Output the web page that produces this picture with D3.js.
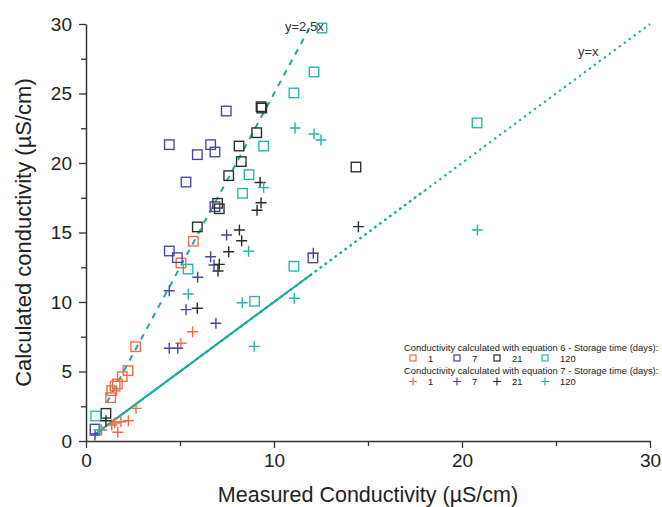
<!DOCTYPE html>
<html><head><meta charset="utf-8">
<script src="https://cdn.jsdelivr.net/npm/d3@7"></script>
<style>body{margin:0;background:#fff}svg{display:block;font-family:"Liberation Sans",Arial,sans-serif}</style>
</head><body><svg id="c" width="662" height="507"></svg>
<script>
// Equation 6 (squares) — [measured, calculated]
const eq6_day1 = [[1.31,3.12],[1.37,3.62],[1.55,3.95],[1.67,4.1],[1.93,4.63],[2.23,5.06],[2.64,6.78],[5.05,12.81],[5.71,14.37]];
const eq6_day7 = [[0.48,0.86],[4.43,13.67],[4.86,13.19],[5.32,18.63],[4.43,21.32],[5.92,20.6],[6.63,21.32],[6.86,20.79],[7.46,23.74],[6.86,16.86],[12.07,13.17]];
const eq6_day21 = [[1.06,1.99],[5.92,15.4],[7.0,17.1],[7.09,16.71],[7.59,19.09],[8.26,20.1],[8.14,21.22],[9.08,22.18],[9.31,24.05],[9.35,23.95],[14.36,19.71]];
const eq6_day120 = [[0.52,1.8],[5.43,12.37],[8.33,17.82],[8.67,19.16],[9.45,21.22],[8.97,10.05],[11.06,12.57],[11.06,25.04],[12.13,26.55],[12.55,29.71],[20.8,22.88]];
// Equation 7 (crosses)
const eq7_day1 = [[0.83,0.79],[1.37,1.15],[1.53,1.3],[1.69,0.63],[1.86,1.39],[2.25,1.46],[2.66,2.35],[5.05,7.03],[5.67,7.86]];
const eq7_day7 = [[0.48,0.43],[4.43,6.67],[4.88,6.67],[4.43,10.81],[5.32,9.45],[5.94,11.78],[6.63,13.26],[6.81,12.66],[6.91,8.47],[7.48,14.82],[12.09,13.5]];
const eq7_day21 = [[1.06,1.46],[5.92,9.55],[7.02,12.23],[7.09,12.71],[7.59,13.62],[8.16,15.18],[8.28,14.41],[9.1,16.6],[9.31,17.14],[9.26,18.6],[14.49,15.42]];
const eq7_day120 = [[0.69,0.8],[5.44,10.58],[8.31,9.95],[8.65,13.65],[8.95,6.81],[9.45,18.23],[11.08,10.27],[11.12,22.52],[12.13,22.09],[12.5,21.65],[20.82,15.18]];

const storageDays = ["1","7","21","120"];
const seriesColors = ["#f06a44","#4545a6","#2a2a2a","#22b5aa"];
const xTicks = [0,10,20,30];
const yTicks = [0,5,10,15,20,25,30];
const xTitle = "Measured Conductivity (µS/cm)";
const yTitle = "Calculated conductivity (µS/cm)";
const legendTitle6 = "Conductivity calculated with equation 6 - Storage time (days):";
const legendTitle7 = "Conductivity calculated with equation 7 - Storage time (days):";
const lineSlope = [2.5, 1];
const lineLabels = ["y=2,5x","y=x"];

const svg = d3.select("#c");
const x = d3.scaleLinear().domain([0,30]).range([86,650]);
const y = d3.scaleLinear().domain([0,30]).range([441,24]);
const axisColor = "#333";
const lineColor = "#1aaba0";

// minor ticks
svg.append("g").attr("transform","translate(0,441)")
  .call(d3.axisBottom(x).tickValues([5,15,25]).tickSize(5).tickFormat(""))
  .call(g=>{g.select(".domain").remove();g.selectAll("line").attr("stroke",axisColor).attr("stroke-width",1.3);});
svg.append("g").attr("transform","translate(86,0)")
  .call(d3.axisLeft(y).tickValues([2.5,7.5,12.5,17.5,22.5,27.5]).tickSize(5).tickFormat(""))
  .call(g=>{g.select(".domain").remove();g.selectAll("line").attr("stroke",axisColor).attr("stroke-width",1.3);});

// major axes
const gx = svg.append("g").attr("transform","translate(0,441)")
  .call(d3.axisBottom(x).tickValues(xTicks).tickSize(7).tickSizeOuter(0).tickPadding(6));
const gy = svg.append("g").attr("transform","translate(86,0)")
  .call(d3.axisLeft(y).tickValues(yTicks).tickSize(7).tickSizeOuter(0).tickPadding(7));
[gx,gy].forEach(g=>{
  g.select(".domain").attr("stroke",axisColor).attr("stroke-width",1.5);
  g.selectAll(".tick line").attr("stroke",axisColor).attr("stroke-width",1.3);
  g.selectAll(".tick text").attr("fill","#222").style("font-size","19px").style("font-family","'Liberation Sans',Arial,sans-serif");
});
gx.selectAll(".tick text").attr("dy","0.71em").attr("y",13);

// axis titles
svg.append("text").attr("x",(x(0)+x(30))/2).attr("y",502).attr("text-anchor","middle")
  .attr("fill","#222").style("font-size","21.5px").text(xTitle);
svg.append("text").attr("transform",`translate(31,${(y(0)+y(30))/2}) rotate(-90)`).attr("text-anchor","middle")
  .attr("fill","#222").style("font-size","22px").text(yTitle);

// reference lines
const line = d3.line().x(d=>x(d[0])).y(d=>y(d[1]));
// y = 2.5x dashed
svg.append("path").attr("d", line([[1.1,1.1*lineSlope[0]],[30/lineSlope[0],30]]))
  .attr("stroke",lineColor).attr("stroke-width",2).attr("fill","none").attr("stroke-dasharray","6,6");
// y = x: solid near origin, fading into a dotted line
svg.append("path").attr("d", line([[0.5,0.5*lineSlope[1]],[12,12*lineSlope[1]]]))
  .attr("stroke",lineColor).attr("stroke-width",2).attr("fill","none");
svg.append("path").attr("d", line([[0.5,0.5],[30,30]]))
  .attr("stroke",lineColor).attr("stroke-width",2.1).attr("fill","none").attr("stroke-dasharray","2.3,3.9");
svg.append("path").attr("d", line([[0.5,0.5],[18,18]]))
  .attr("stroke",lineColor).attr("stroke-width",2.1).attr("fill","none")
  .attr("stroke-dasharray","2.3,3.84").attr("stroke-dashoffset",-3.1);

svg.append("text").attr("x",285).attr("y",31).attr("fill","#333").style("font-size","13px").text(lineLabels[0]);
svg.append("text").attr("x",578).attr("y",56).attr("fill","#333").style("font-size","13px").text(lineLabels[1]);

// markers
const sqSeries = [eq6_day1,eq6_day7,eq6_day21,eq6_day120];
const crSeries = [eq7_day1,eq7_day7,eq7_day21,eq7_day120];
const S = 9.5, C = 11;
sqSeries.forEach((data,i)=>{
  svg.append("g").selectAll("rect").data(data).join("rect")
    .attr("x",d=>x(d[0])-S/2).attr("y",d=>y(d[1])-S/2).attr("width",S).attr("height",S)
    .attr("fill","none").attr("stroke",seriesColors[i]).attr("stroke-width",1.35);
});
crSeries.forEach((data,i)=>{
  svg.append("g").selectAll("path").data(data).join("path")
    .attr("d",d=>`M${x(d[0])-C/2},${y(d[1])}H${x(d[0])+C/2}M${x(d[0])},${y(d[1])-C/2}V${y(d[1])+C/2}`)
    .attr("stroke",seriesColors[i]).attr("stroke-width",1.4).attr("fill","none");
});

// legend
const lg = svg.append("g").style("font-size","9.4px").attr("fill","#222");
const lgX = [413,457,497,545];
lg.append("text").attr("x",404).attr("y",351).text(legendTitle6);
lg.append("text").attr("x",404).attr("y",374).text(legendTitle7);
storageDays.forEach((d,i)=>{
  lg.append("rect").attr("x",lgX[i]-3).attr("y",355).attr("width",6).attr("height",6)
    .attr("fill","none").attr("stroke",seriesColors[i]).attr("stroke-width",1.2);
  lg.append("text").attr("x",lgX[i]+15).attr("y",362).text(d);
  lg.append("path").attr("d",`M${lgX[i]-4},381.5H${lgX[i]+4}M${lgX[i]},377.5V385.5`)
    .attr("stroke",seriesColors[i]).attr("stroke-width",1.2);
  lg.append("text").attr("x",lgX[i]+15).attr("y",385).text(d);
});
</script></body></html>
